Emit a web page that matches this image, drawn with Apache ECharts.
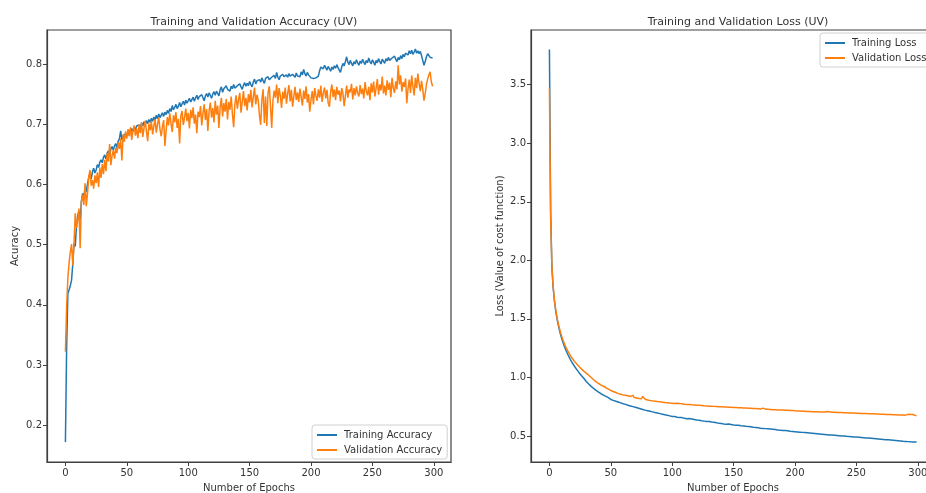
<!DOCTYPE html>
<html>
<head>
<meta charset="utf-8">
<title>Training and Validation (UV)</title>
<script src="https://cdn.jsdelivr.net/npm/echarts@6/dist/echarts.min.js"></script>
<style>
  html, body { margin: 0; padding: 0; background: #ffffff; }
  #chart { width: 926px; height: 493px; }
</style>
</head>
<body>
<div id="chart"></div>
<script>
// Per-epoch training history (300 epochs, 0..299)
const epochTicks = [0, 50, 100, 150, 200, 250, 300];
const accTicks = [0.2, 0.3, 0.4, 0.5, 0.6, 0.7, 0.8];
const lossTicks = [0.5, 1.0, 1.5, 2.0, 2.5, 3.0, 3.5];

const trainAcc = [
  0.172, 0.330, 0.419, 0.425, 0.432, 0.441, 0.468, 0.502, 0.497, 0.531,
  0.548, 0.556, 0.541, 0.572, 0.585, 0.579, 0.593, 0.588, 0.601, 0.612,
  0.618, 0.609, 0.621, 0.627, 0.619, 0.624, 0.633, 0.628, 0.637, 0.641,
  0.636, 0.645, 0.649, 0.642, 0.652, 0.656, 0.648, 0.659, 0.663, 0.657,
  0.664, 0.668, 0.661, 0.672, 0.676, 0.689, 0.674, 0.681, 0.678, 0.684,
  0.687, 0.682, 0.690, 0.686, 0.693, 0.688, 0.695, 0.691, 0.697, 0.694,
  0.699, 0.693, 0.702, 0.697, 0.704, 0.699, 0.706, 0.701, 0.708, 0.703,
  0.710, 0.705, 0.712, 0.707, 0.715, 0.709, 0.717, 0.711, 0.714, 0.719,
  0.713, 0.720, 0.716, 0.723, 0.718, 0.726, 0.721, 0.731, 0.724, 0.728,
  0.733, 0.726, 0.730, 0.736, 0.729, 0.734, 0.738, 0.732, 0.740, 0.735,
  0.739, 0.743, 0.737, 0.741, 0.745, 0.738, 0.744, 0.748, 0.741, 0.746,
  0.743, 0.749, 0.744, 0.739, 0.747, 0.751, 0.745, 0.752, 0.748, 0.743,
  0.750, 0.754, 0.748, 0.755, 0.751, 0.747, 0.757, 0.762, 0.753, 0.759,
  0.756, 0.764, 0.758, 0.761, 0.755, 0.763, 0.759, 0.766, 0.760, 0.757,
  0.764, 0.761, 0.767, 0.762, 0.758, 0.765, 0.769, 0.763, 0.768, 0.764,
  0.771, 0.766, 0.762, 0.770, 0.775, 0.767, 0.772, 0.769, 0.774, 0.770,
  0.777, 0.772, 0.768, 0.776, 0.773, 0.779, 0.774, 0.771, 0.778, 0.775,
  0.781, 0.776, 0.786, 0.778, 0.774, 0.780, 0.777, 0.783, 0.779, 0.776,
  0.782, 0.778, 0.784, 0.780, 0.777, 0.783, 0.781, 0.778, 0.785, 0.780,
  0.783, 0.779, 0.787, 0.782, 0.791, 0.784, 0.780, 0.786, 0.782, 0.779,
  0.777, 0.778, 0.776, 0.779, 0.777, 0.776, 0.780, 0.789, 0.795, 0.797,
  0.792, 0.798, 0.794, 0.790, 0.796, 0.793, 0.788, 0.795, 0.791, 0.797,
  0.793, 0.799, 0.794, 0.790, 0.786, 0.795, 0.801, 0.797, 0.804, 0.812,
  0.803, 0.799, 0.806, 0.801, 0.797, 0.804, 0.800, 0.807, 0.802, 0.798,
  0.805, 0.801, 0.808, 0.803, 0.799, 0.806, 0.802, 0.810, 0.804, 0.800,
  0.807, 0.803, 0.798, 0.806, 0.802, 0.809, 0.804, 0.800, 0.808, 0.805,
  0.801, 0.809, 0.805, 0.811, 0.806, 0.803, 0.810, 0.807, 0.813, 0.808,
  0.804, 0.811, 0.807, 0.814, 0.809, 0.816, 0.812, 0.818, 0.821, 0.815,
  0.822, 0.817, 0.823, 0.816, 0.820, 0.825, 0.818, 0.822, 0.817, 0.821,
  0.814, 0.806, 0.798, 0.804, 0.812, 0.817, 0.814, 0.811, 0.813, 0.810
];

const valAcc = [
  0.322, 0.398, 0.445, 0.470, 0.488, 0.501, 0.466, 0.503, 0.552, 0.528,
  0.541, 0.560, 0.494, 0.571, 0.583, 0.566, 0.602, 0.564, 0.585, 0.612,
  0.624, 0.598, 0.607, 0.593, 0.615, 0.602, 0.620, 0.596, 0.628, 0.611,
  0.634, 0.617, 0.641, 0.622, 0.652, 0.638, 0.667, 0.632, 0.648, 0.657,
  0.643, 0.661, 0.652, 0.670, 0.659, 0.676, 0.640, 0.683, 0.671, 0.688,
  0.676, 0.692, 0.680, 0.695, 0.674, 0.689, 0.698, 0.681, 0.693, 0.677,
  0.699, 0.685, 0.703, 0.679, 0.694, 0.706, 0.688, 0.672, 0.701, 0.690,
  0.705, 0.683, 0.697, 0.708, 0.686, 0.700, 0.711, 0.692, 0.680, 0.696,
  0.707, 0.664, 0.689, 0.712, 0.698, 0.718, 0.701, 0.687, 0.715, 0.703,
  0.720, 0.694, 0.709, 0.668, 0.714, 0.722, 0.699, 0.711, 0.726, 0.705,
  0.719, 0.693, 0.724, 0.710, 0.728, 0.701, 0.716, 0.685, 0.721, 0.712,
  0.730, 0.698, 0.718, 0.733, 0.707, 0.725, 0.689, 0.722, 0.736, 0.711,
  0.727, 0.703, 0.739, 0.716, 0.731, 0.694, 0.728, 0.744, 0.713, 0.735,
  0.721, 0.742, 0.708, 0.737, 0.724, 0.746, 0.717, 0.695, 0.733, 0.748,
  0.726, 0.741, 0.752, 0.719, 0.738, 0.755, 0.730, 0.744, 0.723, 0.750,
  0.736, 0.757, 0.728, 0.745, 0.761, 0.733, 0.749, 0.740, 0.715, 0.699,
  0.741, 0.758, 0.702, 0.746, 0.697, 0.752, 0.763, 0.731, 0.694, 0.739,
  0.756, 0.744, 0.766, 0.735, 0.760, 0.748, 0.727, 0.754, 0.742, 0.761,
  0.734, 0.751, 0.765, 0.738, 0.757, 0.729, 0.746, 0.762, 0.740, 0.753,
  0.737, 0.759, 0.745, 0.731, 0.756, 0.742, 0.763, 0.736, 0.750, 0.721,
  0.741, 0.755, 0.733, 0.760, 0.747, 0.739, 0.758, 0.744, 0.764, 0.737,
  0.752, 0.761, 0.743, 0.757, 0.735, 0.729, 0.754, 0.766, 0.745, 0.758,
  0.740, 0.762, 0.749, 0.756, 0.738, 0.760, 0.751, 0.730, 0.747, 0.764,
  0.744, 0.758, 0.753, 0.767, 0.741, 0.760, 0.748, 0.763, 0.752, 0.746,
  0.765, 0.750, 0.759, 0.743, 0.770, 0.755, 0.748, 0.762, 0.740, 0.768,
  0.753, 0.771, 0.746, 0.760, 0.775, 0.749, 0.766, 0.756, 0.779, 0.751,
  0.764, 0.748, 0.773, 0.757, 0.769, 0.745, 0.777, 0.760, 0.752, 0.771,
  0.758, 0.798, 0.766, 0.781, 0.754, 0.770, 0.762, 0.776, 0.735, 0.759,
  0.774, 0.752, 0.781, 0.763, 0.748, 0.777, 0.760, 0.784, 0.768, 0.755,
  0.772, 0.758, 0.739, 0.751, 0.766, 0.775, 0.782, 0.787, 0.770, 0.763
];

const trainLoss = [
  3.800, 2.420, 1.950, 1.772, 1.661, 1.578, 1.512, 1.458, 1.410, 1.369,
  1.333, 1.300, 1.271, 1.244, 1.219, 1.196, 1.175, 1.155, 1.136, 1.119,
  1.102, 1.086, 1.071, 1.057, 1.043, 1.030, 1.017, 1.005, 0.993, 0.982,
  0.966, 0.955, 0.944, 0.934, 0.924, 0.915, 0.906, 0.898, 0.890, 0.882,
  0.875, 0.868, 0.861, 0.856, 0.849, 0.843, 0.838, 0.832, 0.827, 0.822,
  0.812, 0.808, 0.804, 0.801, 0.797, 0.794, 0.790, 0.787, 0.783, 0.780,
  0.776, 0.773, 0.770, 0.766, 0.763, 0.760, 0.757, 0.754, 0.751, 0.748,
  0.745, 0.742, 0.739, 0.736, 0.733, 0.730, 0.727, 0.733, 0.721, 0.718,
  0.716, 0.713, 0.711, 0.708, 0.706, 0.703, 0.700, 0.698, 0.696, 0.693,
  0.691, 0.688, 0.686, 0.684, 0.681, 0.679, 0.677, 0.674, 0.672, 0.669,
  0.667, 0.664, 0.666, 0.661, 0.660, 0.662, 0.657, 0.655, 0.657, 0.652,
  0.651, 0.653, 0.648, 0.646, 0.649, 0.644, 0.645, 0.640, 0.641, 0.638,
  0.637, 0.639, 0.634, 0.633, 0.630, 0.632, 0.627, 0.628, 0.624, 0.622,
  0.623, 0.619, 0.620, 0.616, 0.618, 0.613, 0.614, 0.612, 0.608, 0.610,
  0.606, 0.607, 0.603, 0.605, 0.601, 0.600, 0.602, 0.597, 0.598, 0.595,
  0.594, 0.596, 0.591, 0.590, 0.592, 0.587, 0.588, 0.585, 0.586, 0.582,
  0.583, 0.580, 0.581, 0.577, 0.579, 0.576, 0.574, 0.577, 0.572, 0.573,
  0.570, 0.571, 0.567, 0.569, 0.565, 0.566, 0.563, 0.565, 0.561, 0.562,
  0.559, 0.561, 0.557, 0.558, 0.555, 0.556, 0.552, 0.554, 0.550, 0.551,
  0.548, 0.550, 0.546, 0.547, 0.544, 0.545, 0.541, 0.543, 0.539, 0.540,
  0.537, 0.539, 0.535, 0.536, 0.533, 0.535, 0.531, 0.532, 0.529, 0.531,
  0.527, 0.528, 0.525, 0.527, 0.523, 0.524, 0.521, 0.523, 0.519, 0.520,
  0.517, 0.519, 0.515, 0.516, 0.513, 0.515, 0.511, 0.512, 0.509, 0.511,
  0.508, 0.509, 0.506, 0.508, 0.504, 0.505, 0.502, 0.504, 0.500, 0.501,
  0.499, 0.501, 0.497, 0.498, 0.496, 0.497, 0.494, 0.495, 0.492, 0.494,
  0.491, 0.492, 0.489, 0.491, 0.487, 0.488, 0.485, 0.487, 0.483, 0.484,
  0.482, 0.484, 0.480, 0.481, 0.478, 0.480, 0.476, 0.477, 0.474, 0.476,
  0.472, 0.473, 0.470, 0.472, 0.468, 0.469, 0.467, 0.469, 0.465, 0.466,
  0.463, 0.465, 0.461, 0.462, 0.459, 0.461, 0.457, 0.458, 0.455, 0.457,
  0.454, 0.455, 0.452, 0.454, 0.450, 0.452, 0.449, 0.451, 0.448, 0.452
];

const valLoss = [
  3.470, 2.360, 1.955, 1.781, 1.670, 1.588, 1.522, 1.470, 1.426, 1.387,
  1.352, 1.321, 1.293, 1.268, 1.246, 1.225, 1.206, 1.189, 1.172, 1.157,
  1.143, 1.129, 1.118, 1.104, 1.095, 1.081, 1.073, 1.061, 1.054, 1.043,
  1.037, 1.026, 1.019, 1.004, 0.999, 0.986, 0.980, 0.965, 0.962, 0.953,
  0.950, 0.941, 0.935, 0.928, 0.925, 0.916, 0.912, 0.904, 0.901, 0.893,
  0.889, 0.884, 0.880, 0.873, 0.871, 0.866, 0.862, 0.872, 0.857, 0.853,
  0.851, 0.846, 0.848, 0.840, 0.843, 0.836, 0.838, 0.832, 0.847, 0.829,
  0.831, 0.825, 0.828, 0.821, 0.824, 0.818, 0.838, 0.822, 0.814, 0.812,
  0.808, 0.811, 0.803, 0.806, 0.800, 0.803, 0.797, 0.801, 0.794, 0.798,
  0.792, 0.795, 0.789, 0.801, 0.786, 0.790, 0.784, 0.788, 0.781, 0.786,
  0.779, 0.783, 0.777, 0.775, 0.780, 0.773, 0.777, 0.771, 0.775, 0.768,
  0.772, 0.766, 0.770, 0.764, 0.768, 0.763, 0.766, 0.761, 0.765, 0.759,
  0.763, 0.758, 0.762, 0.756, 0.760, 0.755, 0.758, 0.753, 0.757, 0.752,
  0.755, 0.751, 0.754, 0.749, 0.753, 0.748, 0.752, 0.747, 0.750, 0.746,
  0.749, 0.755, 0.748, 0.744, 0.747, 0.743, 0.746, 0.742, 0.745, 0.741,
  0.744, 0.740, 0.743, 0.739, 0.742, 0.738, 0.741, 0.737, 0.740, 0.736,
  0.739, 0.735, 0.738, 0.733, 0.737, 0.732, 0.735, 0.730, 0.734, 0.729,
  0.733, 0.728, 0.731, 0.727, 0.738, 0.726, 0.729, 0.724, 0.728, 0.723,
  0.727, 0.722, 0.725, 0.721, 0.724, 0.720, 0.723, 0.719, 0.722, 0.718,
  0.721, 0.717, 0.720, 0.716, 0.719, 0.715, 0.718, 0.714, 0.717, 0.713,
  0.715, 0.711, 0.714, 0.710, 0.713, 0.709, 0.712, 0.708, 0.711, 0.707,
  0.710, 0.706, 0.709, 0.717, 0.708, 0.705, 0.708, 0.704, 0.707, 0.703,
  0.706, 0.703, 0.705, 0.702, 0.705, 0.701, 0.710, 0.704, 0.707, 0.700,
  0.703, 0.699, 0.702, 0.698, 0.701, 0.698, 0.700, 0.697, 0.700, 0.696,
  0.699, 0.695, 0.698, 0.694, 0.697, 0.694, 0.696, 0.693, 0.696, 0.692,
  0.695, 0.691, 0.694, 0.690, 0.693, 0.690, 0.692, 0.689, 0.692, 0.688,
  0.691, 0.687, 0.690, 0.686, 0.689, 0.686, 0.688, 0.684, 0.687, 0.693,
  0.686, 0.682, 0.685, 0.681, 0.684, 0.681, 0.683, 0.680, 0.683, 0.679,
  0.682, 0.678, 0.681, 0.677, 0.680, 0.677, 0.679, 0.676, 0.679, 0.675,
  0.678, 0.681, 0.685, 0.679, 0.683, 0.680, 0.684, 0.678, 0.676, 0.672
];

const BLUE = '#1f77b4';
const ORANGE = '#ff7f0e';
const FRAME = '#404040';
const FONT = 'DejaVu Sans';

function pairs(values) {
  return values.map((v, i) => [i, v]);
}

function xAxisFor(gridIndex) {
  return {
    type: 'value', gridIndex: gridIndex,
    min: -15, max: 314,
    name: 'Number of Epochs', nameLocation: 'middle', nameGap: 21,
    nameTextStyle: { fontFamily: FONT, fontSize: 10, color: '#333' },
    axisLine: { show: true, onZero: false, lineStyle: { color: FRAME, width: 1.2 } },
    axisTick: { show: true, length: 4, lineStyle: { color: FRAME, width: 1 }, customValues: epochTicks },
    axisLabel: { fontFamily: FONT, fontSize: 10, color: '#333', margin: 6, customValues: epochTicks },
    splitLine: { show: false }
  };
}

function yAxisFor(gridIndex, min, max, ticks, title, gap, fmt) {
  return {
    type: 'value', gridIndex: gridIndex,
    min: min, max: max,
    name: title, nameLocation: 'middle', nameGap: gap, nameRotate: 90,
    nameTextStyle: { fontFamily: FONT, fontSize: 10, color: '#333' },
    axisLine: { show: true, onZero: false, lineStyle: { color: FRAME, width: 1.2 } },
    axisTick: { show: true, length: 4, lineStyle: { color: FRAME, width: 1 }, customValues: ticks },
    axisLabel: { fontFamily: FONT, fontSize: 10, color: '#333', margin: 5, customValues: ticks, formatter: fmt },
    splitLine: { show: false }
  };
}

function lineSeries(name, values, color, xi, yi) {
  return {
    name: name, type: 'line', xAxisIndex: xi, yAxisIndex: yi,
    data: pairs(values), showSymbol: false, symbol: 'none',
    lineStyle: { color: color, width: 1.5 }, itemStyle: { color: color },
    animation: false, clip: true
  };
}

const legendBase = {
  orient: 'vertical', icon: 'rect', itemWidth: 20, itemHeight: 2, itemGap: 5,
  padding: [5, 5, 4, 5],
  backgroundColor: 'rgba(255,255,255,0.85)', borderColor: '#d0d0d0', borderWidth: 1, borderRadius: 3,
  textStyle: { fontFamily: FONT, fontSize: 10, color: '#333', padding: [0, 0, 0, 2] }
};

const gridBase = {
  top: 30, width: 404, height: 432, show: true,
  borderColor: FRAME, borderWidth: 1.2, backgroundColor: 'transparent',
  containLabel: false, outerBoundsMode: 'none'
};

const chart = echarts.init(document.getElementById('chart'), null, { renderer: 'canvas' });
chart.setOption({
  backgroundColor: '#ffffff',
  animation: false,
  title: [
    { text: 'Training and Validation Accuracy (UV)', left: 249, top: 12, textAlign: 'center',
      textStyle: { fontFamily: FONT, fontSize: 11, fontWeight: 'normal', color: '#333' } },
    { text: 'Training and Validation Loss (UV)', left: 733, top: 12, textAlign: 'center',
      textStyle: { fontFamily: FONT, fontSize: 11, fontWeight: 'normal', color: '#333' } }
  ],
  grid: [
    Object.assign({}, gridBase, { left: 47 }),
    Object.assign({}, gridBase, { left: 531 })
  ],
  xAxis: [xAxisFor(0), xAxisFor(1)],
  yAxis: [
    yAxisFor(0, 0.139, 0.8565, accTicks, 'Acuracy', 27, v => v.toFixed(1)),
    yAxisFor(1, 0.278, 3.967, lossTicks, 'Loss (Value of cost function)', 26, v => v.toFixed(1))
  ],
  legend: [
    Object.assign({}, legendBase, { left: 312, top: 425, data: ['Training Accuracy', 'Validation Accuracy'] }),
    Object.assign({}, legendBase, { left: 820, top: 33, data: ['Training Loss', 'Validation Loss'] })
  ],
  series: [
    lineSeries('Training Accuracy', trainAcc, BLUE, 0, 0),
    lineSeries('Validation Accuracy', valAcc, ORANGE, 0, 0),
    lineSeries('Training Loss', trainLoss, BLUE, 1, 1),
    lineSeries('Validation Loss', valLoss, ORANGE, 1, 1)
  ]
});
</script>
</body>
</html>
